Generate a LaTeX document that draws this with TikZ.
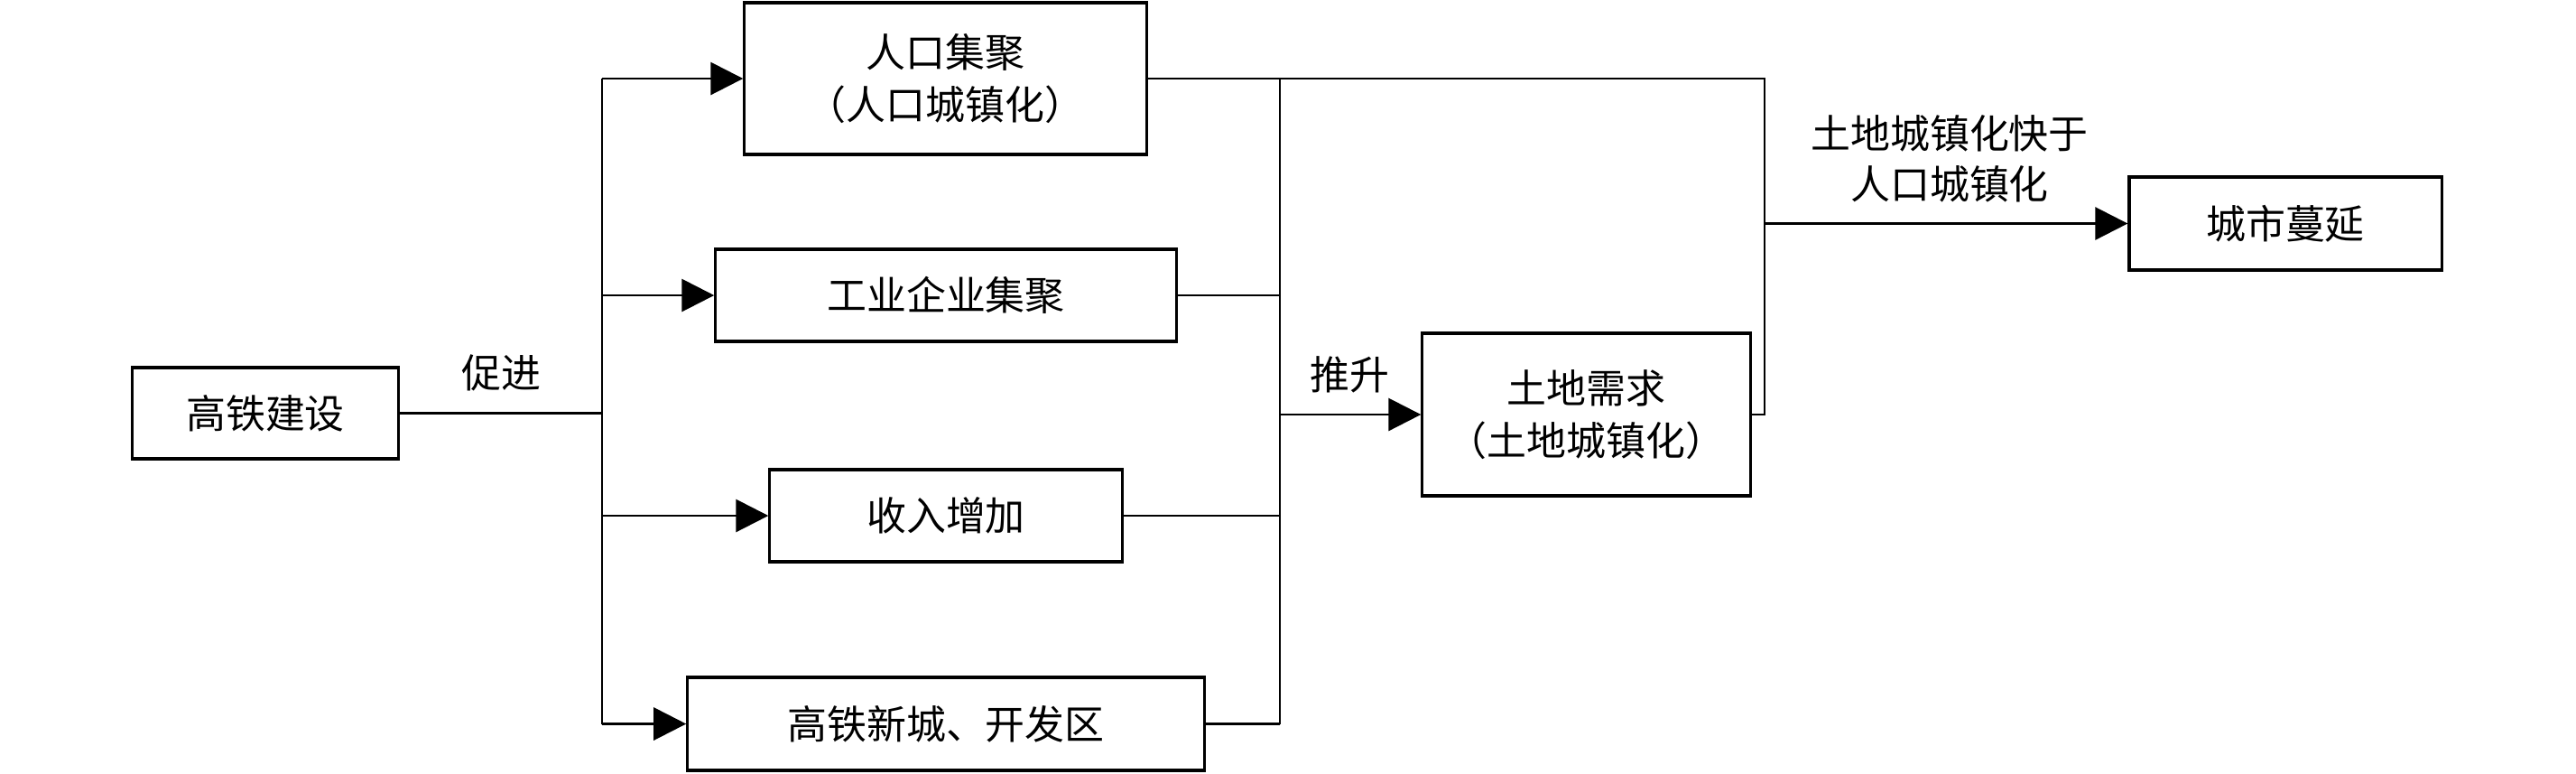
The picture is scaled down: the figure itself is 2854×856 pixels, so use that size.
\documentclass[tikz,border=0pt]{standalone}
\usepackage{fontspec}
\setmainfont{Noto Sans CJK SC}
\usetikzlibrary{arrows.meta}
\begin{document}
\begin{tikzpicture}[x=0.01cm,y=-0.01cm,
  box/.style={draw, line width=0.9pt, inner sep=0pt, align=center, font=\fontsize{12.5}{16.5}\selectfont},
  lbl/.style={inner sep=0pt, align=center, font=\fontsize{12.5}{16}\selectfont},
  conn/.style={line width=0.8pt},
  arr/.style={conn, -{Triangle[length=0.36cm,width=0.36cm]}}]
\useasboundingbox (0,0) rectangle (2854,856);
% boxes
\node[box, minimum width=2.94cm, minimum height=1.01cm] (gt) at (294,457.5) {高铁建设};
\node[box, minimum width=4.45cm, minimum height=1.68cm] (rk) at (1047.5,87) {人口集聚\\（人口城镇化）};
\node[box, minimum width=5.10cm, minimum height=1.02cm] (gy) at (1048,327) {工业企业集聚};
\node[box, minimum width=3.90cm, minimum height=1.02cm] (sr) at (1048,571) {收入增加};
\node[box, minimum width=5.72cm, minimum height=1.03cm] (xc) at (1048,801.5) {高铁新城、开发区};
\node[box, minimum width=3.63cm, minimum height=1.80cm] (td) at (1757.5,459) {土地需求\\（土地城镇化）};
\node[box, minimum width=3.46cm, minimum height=1.03cm] (cs) at (2532,247.5) {城市蔓延};
% labels
\node[lbl] (l1) at (555,413) {促进};
\node[lbl] (l2) at (1495,415) {推升};
\node[lbl] (l3) at (2160,176) {土地城镇化快于\\人口城镇化};
% trunk coordinates
\coordinate (t1) at (667,0);
\coordinate (t2) at (1418,0);
\coordinate (t3) at (1955,0);
% left fan-out
\draw[conn] (gt.east) -- (gt.east -| t1);
\draw[conn] (t1 |- rk.west) -- (t1 |- xc.west);
\draw[arr] (t1 |- rk.west) -- (rk.west);
\draw[arr] (t1 |- gy.west) -- (gy.west);
\draw[arr] (t1 |- sr.west) -- (sr.west);
\draw[arr] (t1 |- xc.west) -- (xc.west);
% right collector
\draw[conn] (t2 |- rk.east) -- (t2 |- xc.east);
\draw[conn] (gy.east) -- (gy.east -| t2);
\draw[conn] (sr.east) -- (sr.east -| t2);
\draw[conn] (xc.east) -- (xc.east -| t2);
\draw[arr] (t2 |- td.west) -- (td.west);
% top loop to 城市蔓延
\draw[conn] (rk.east) -- (rk.east -| t3) -- (td.east -| t3) -- (td.east);
\draw[arr] (t3 |- cs.west) -- (cs.west);
\end{tikzpicture}
\end{document}
